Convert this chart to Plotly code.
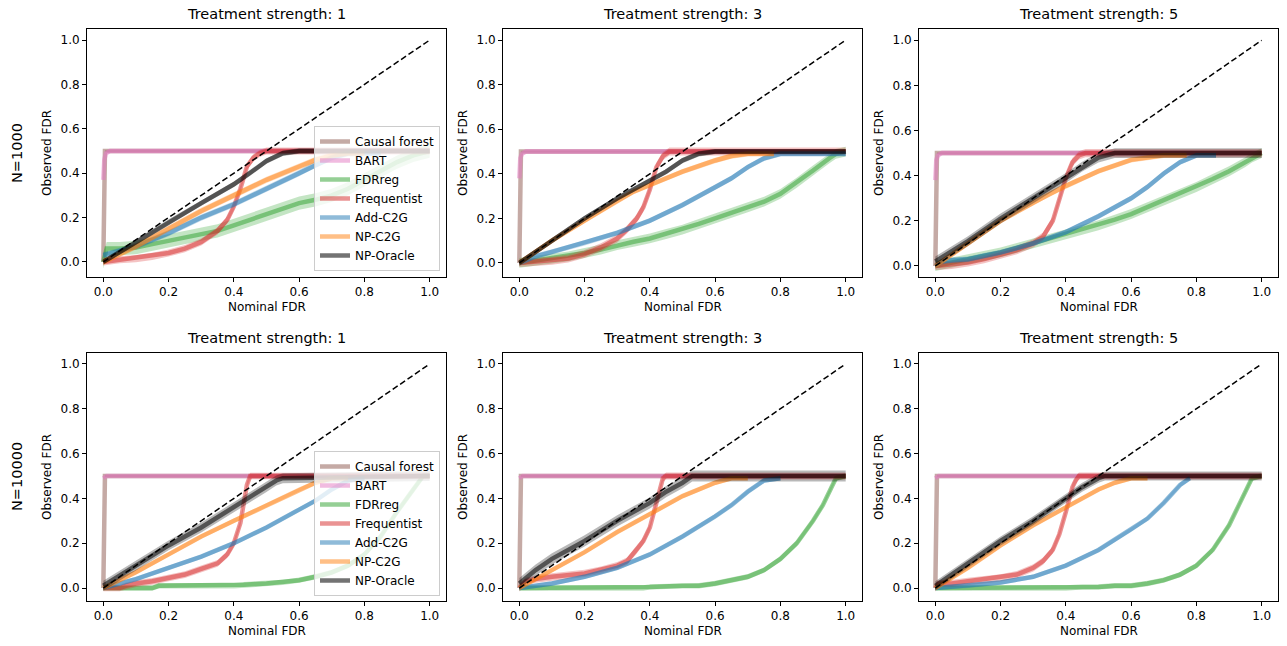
import plotly.graph_objects as go

METHODS = ["Causal forest", "BART", "FDRreg", "Frequentist", "Add-C2G", "NP-C2G", "NP-Oracle"]
COLORS = ["140,86,75", "227,119,194", "44,160,44", "214,39,40", "31,119,180", "255,127,14", "0,0,0"]
ROW_LABELS = ["N=1000", "N=10000"]
STRENGTHS = [1, 3, 5]

# each entry: method -> (nominal FDR, observed FDR, half width of band)
n1000_s1 = {
    "Causal forest": ([0.0, 0.005, 1.0], [0.0, 0.5, 0.5], 0.004),
    "BART": ([0.0, 0.003, 0.008, 0.02, 1.0], [0.37, 0.46, 0.49, 0.5, 0.5], 0.01),
    "FDRreg": ([0.0, 0.01, 0.05, 0.1, 0.15, 0.2, 0.25, 0.3, 0.35, 0.4, 0.45, 0.5, 0.55, 0.6, 0.65, 0.7, 0.75, 0.8, 0.85, 0.9, 0.95, 1.0],
               [0.0, 0.06, 0.06, 0.065, 0.08, 0.095, 0.11, 0.125, 0.14, 0.165, 0.19, 0.215, 0.24, 0.265, 0.28, 0.3, 0.33, 0.37, 0.41, 0.45, 0.48, 0.5], 0.03),
    "Frequentist": ([0.0, 0.05, 0.1, 0.15, 0.2, 0.25, 0.3, 0.35, 0.38, 0.4, 0.42, 0.44, 0.46, 0.48, 0.5, 1.0],
                    [0.0, 0.01, 0.015, 0.025, 0.04, 0.06, 0.09, 0.14, 0.19, 0.25, 0.33, 0.43, 0.47, 0.49, 0.5, 0.5], 0.016),
    "Add-C2G": ([0.0, 0.05, 0.1, 0.2, 0.3, 0.4, 0.5, 0.6, 0.65, 0.7, 0.75, 0.85],
                [0.03, 0.05, 0.07, 0.13, 0.2, 0.26, 0.33, 0.4, 0.44, 0.47, 0.49, 0.49], 0.014),
    "NP-C2G": ([0.0, 0.1, 0.2, 0.3, 0.4, 0.5, 0.6, 0.65, 0.7, 0.75, 0.8],
               [0.0, 0.07, 0.15, 0.23, 0.3, 0.37, 0.43, 0.46, 0.48, 0.49, 0.49], 0.014),
    "NP-Oracle": ([0.0, 0.1, 0.2, 0.3, 0.4, 0.45, 0.5, 0.55, 0.6, 1.0],
                  [0.0, 0.09, 0.18, 0.265, 0.35, 0.4, 0.455, 0.49, 0.5, 0.5], 0.012),
}

n1000_s3 = {
    "Causal forest": ([0.0, 0.005, 1.0], [0.0, 0.5, 0.5], 0.004),
    "BART": ([0.0, 0.003, 0.008, 0.02, 1.0], [0.38, 0.47, 0.49, 0.5, 0.5], 0.01),
    "FDRreg": ([0.0, 0.05, 0.1, 0.15, 0.2, 0.25, 0.3, 0.35, 0.4, 0.45, 0.5, 0.55, 0.6, 0.65, 0.7, 0.75, 0.8, 0.85, 0.9, 0.95, 0.97, 1.0],
               [0.0, 0.01, 0.02, 0.03, 0.045, 0.06, 0.08, 0.095, 0.11, 0.13, 0.15, 0.175, 0.2, 0.225, 0.25, 0.275, 0.31, 0.36, 0.415, 0.47, 0.49, 0.5], 0.022),
    "Frequentist": ([0.0, 0.05, 0.1, 0.15, 0.2, 0.25, 0.3, 0.33, 0.36, 0.38, 0.4, 0.42, 0.44, 0.46, 0.5, 1.0],
                    [0.0, 0.005, 0.01, 0.02, 0.04, 0.07, 0.11, 0.15, 0.2, 0.25, 0.33, 0.43, 0.48, 0.5, 0.5, 0.5], 0.018),
    "Add-C2G": ([0.0, 0.05, 0.1, 0.2, 0.3, 0.4, 0.5, 0.6, 0.65, 0.7, 0.75, 0.8, 1.0],
                [0.0, 0.03, 0.05, 0.09, 0.135, 0.19, 0.26, 0.34, 0.38, 0.43, 0.47, 0.49, 0.49], 0.012),
    "NP-C2G": ([0.0, 0.1, 0.2, 0.3, 0.35, 0.4, 0.5, 0.6, 0.65, 0.7, 0.78],
               [0.0, 0.1, 0.19, 0.28, 0.32, 0.35, 0.41, 0.46, 0.48, 0.49, 0.49], 0.012),
    "NP-Oracle": ([0.0, 0.1, 0.2, 0.3, 0.4, 0.45, 0.5, 0.55, 0.6, 1.0],
                  [0.0, 0.1, 0.2, 0.29, 0.37, 0.41, 0.46, 0.49, 0.5, 0.5], 0.012),
}

n1000_s5 = {
    "Causal forest": ([0.0, 0.005, 1.0], [0.0, 0.5, 0.5], 0.004),
    "BART": ([0.0, 0.003, 0.008, 0.02, 1.0], [0.38, 0.47, 0.49, 0.5, 0.5], 0.01),
    "FDRreg": ([0.0, 0.05, 0.1, 0.15, 0.2, 0.25, 0.3, 0.35, 0.4, 0.45, 0.5, 0.55, 0.6, 0.65, 0.7, 0.75, 0.8, 0.85, 0.9, 0.95, 0.97, 1.0],
               [0.0, 0.015, 0.03, 0.045, 0.06, 0.08, 0.1, 0.12, 0.14, 0.16, 0.18, 0.205, 0.23, 0.26, 0.29, 0.32, 0.35, 0.385, 0.42, 0.46, 0.48, 0.5], 0.022),
    "Frequentist": ([0.0, 0.05, 0.1, 0.15, 0.2, 0.25, 0.3, 0.33, 0.36, 0.38, 0.4, 0.42, 0.44, 0.46, 0.5, 1.0],
                    [0.0, 0.005, 0.015, 0.03, 0.05, 0.07, 0.1, 0.13, 0.2, 0.3, 0.39, 0.46, 0.49, 0.5, 0.5, 0.5], 0.018),
    "Add-C2G": ([0.0, 0.02, 0.05, 0.1, 0.15, 0.2, 0.3, 0.4, 0.5, 0.6, 0.65, 0.7, 0.75, 0.8, 0.86],
                [0.0, 0.02, 0.025, 0.03, 0.045, 0.06, 0.1, 0.15, 0.22, 0.3, 0.35, 0.41, 0.46, 0.49, 0.49], 0.012),
    "NP-C2G": ([0.0, 0.1, 0.2, 0.3, 0.35, 0.4, 0.5, 0.6, 0.65, 0.7, 0.77],
               [0.0, 0.1, 0.2, 0.28, 0.32, 0.355, 0.42, 0.47, 0.48, 0.49, 0.49], 0.012),
    "NP-Oracle": ([0.0, 0.1, 0.2, 0.3, 0.4, 0.45, 0.5, 0.55, 1.0],
                  [0.02, 0.11, 0.21, 0.3, 0.39, 0.44, 0.48, 0.5, 0.5], 0.022),
}

n10000_s1 = {
    "Causal forest": ([0.0, 0.005, 1.0], [0.0, 0.5, 0.5], 0.004),
    "BART": ([0.0, 0.01, 1.0], [0.49, 0.5, 0.5], 0.006),
    "FDRreg": ([0.0, 0.05, 0.1, 0.15, 0.17, 0.2, 0.3, 0.4, 0.43, 0.5, 0.55, 0.6, 0.65, 0.7, 0.75, 0.8, 0.85, 0.9, 0.95, 0.98, 1.0],
               [0.0, 0.0, 0.0, 0.0, 0.01, 0.01, 0.01, 0.01, 0.015, 0.02, 0.025, 0.035, 0.05, 0.07, 0.1, 0.15, 0.23, 0.34, 0.44, 0.5, 0.5], 0.012),
    "Frequentist": ([0.0, 0.05, 0.07, 0.1, 0.15, 0.2, 0.25, 0.3, 0.35, 0.38, 0.4, 0.42, 0.43, 0.44, 0.45, 1.0],
                    [0.0, 0.0, 0.01, 0.02, 0.03, 0.045, 0.06, 0.085, 0.11, 0.15, 0.2, 0.29, 0.37, 0.46, 0.5, 0.5], 0.015),
    "Add-C2G": ([0.0, 0.05, 0.1, 0.2, 0.3, 0.4, 0.5, 0.6, 0.65, 0.7, 0.75, 0.8],
                [0.0, 0.02, 0.04, 0.09, 0.14, 0.2, 0.27, 0.35, 0.39, 0.44, 0.48, 0.49], 0.01),
    "NP-C2G": ([0.0, 0.1, 0.2, 0.3, 0.4, 0.5, 0.6, 0.65, 0.7, 0.75],
               [0.0, 0.07, 0.15, 0.23, 0.3, 0.37, 0.44, 0.47, 0.49, 0.49], 0.01),
    "NP-Oracle": ([0.0, 0.1, 0.2, 0.3, 0.4, 0.5, 0.53, 0.55, 1.0],
                  [0.01, 0.1, 0.19, 0.27, 0.36, 0.45, 0.48, 0.49, 0.5], 0.022),
}

n10000_s3 = {
    "Causal forest": ([0.0, 0.005, 1.0], [0.0, 0.5, 0.5], 0.004),
    "BART": ([0.0, 0.01, 1.0], [0.49, 0.5, 0.5], 0.006),
    "FDRreg": ([0.0, 0.1, 0.2, 0.3, 0.38, 0.4, 0.5, 0.55, 0.6, 0.65, 0.7, 0.75, 0.8, 0.85, 0.9, 0.93, 0.95, 0.97, 1.0],
               [0.0, 0.0, 0.0, 0.0, 0.0, 0.005, 0.01, 0.01, 0.02, 0.035, 0.05, 0.08, 0.13, 0.2, 0.3, 0.37, 0.43, 0.49, 0.5], 0.012),
    "Frequentist": ([0.0, 0.02, 0.05, 0.1, 0.2, 0.25, 0.3, 0.33, 0.36, 0.38, 0.4, 0.42, 0.43, 0.44, 0.45, 1.0],
                    [0.0, 0.03, 0.04, 0.05, 0.065, 0.08, 0.1, 0.12, 0.17, 0.21, 0.27, 0.38, 0.44, 0.49, 0.5, 0.5], 0.016),
    "Add-C2G": ([0.0, 0.05, 0.1, 0.2, 0.3, 0.4, 0.5, 0.6, 0.65, 0.7, 0.75, 0.8],
                [0.0, 0.01, 0.02, 0.05, 0.09, 0.15, 0.23, 0.32, 0.37, 0.43, 0.48, 0.49], 0.01),
    "NP-C2G": ([0.0, 0.1, 0.2, 0.3, 0.4, 0.5, 0.6, 0.65, 0.7],
               [0.0, 0.08, 0.16, 0.25, 0.33, 0.41, 0.47, 0.49, 0.49], 0.01),
    "NP-Oracle": ([0.0, 0.05, 0.1, 0.2, 0.3, 0.4, 0.45, 0.5, 0.53, 1.0],
                  [0.02, 0.08, 0.13, 0.21, 0.3, 0.38, 0.43, 0.47, 0.5, 0.5], 0.025),
}

n10000_s5 = {
    "Causal forest": ([0.0, 0.005, 1.0], [0.0, 0.5, 0.5], 0.004),
    "BART": ([0.0, 0.01, 1.0], [0.49, 0.5, 0.5], 0.006),
    "FDRreg": ([0.0, 0.1, 0.2, 0.3, 0.4, 0.45, 0.5, 0.55, 0.6, 0.65, 0.7, 0.75, 0.8, 0.85, 0.9, 0.93, 0.95, 0.97, 1.0],
               [0.0, 0.0, 0.0, 0.0, 0.0, 0.005, 0.005, 0.01, 0.01, 0.02, 0.035, 0.06, 0.1, 0.17, 0.28, 0.37, 0.43, 0.49, 0.5], 0.012),
    "Frequentist": ([0.0, 0.01, 0.05, 0.1, 0.2, 0.25, 0.3, 0.33, 0.36, 0.38, 0.4, 0.42, 0.43, 0.44, 0.45, 1.0],
                    [0.0, 0.02, 0.02, 0.03, 0.045, 0.06, 0.09, 0.12, 0.17, 0.24, 0.34, 0.45, 0.48, 0.5, 0.5, 0.5], 0.016),
    "Add-C2G": ([0.0, 0.05, 0.1, 0.2, 0.3, 0.4, 0.5, 0.6, 0.65, 0.7, 0.75, 0.78],
                [0.0, 0.005, 0.01, 0.025, 0.05, 0.1, 0.17, 0.26, 0.31, 0.38, 0.46, 0.49], 0.01),
    "NP-C2G": ([0.0, 0.1, 0.2, 0.3, 0.4, 0.5, 0.55, 0.6, 0.65],
               [0.0, 0.09, 0.19, 0.28, 0.36, 0.44, 0.47, 0.49, 0.49], 0.01),
    "NP-Oracle": ([0.0, 0.1, 0.2, 0.3, 0.4, 0.45, 0.5, 0.52, 1.0],
                  [0.01, 0.11, 0.21, 0.3, 0.4, 0.45, 0.49, 0.5, 0.5], 0.02),
}

PANELS = [n1000_s1, n1000_s3, n1000_s5, n10000_s1, n10000_s3, n10000_s5]
DIAGONAL = [0.0, 1.0]
TICKS = [0.0, 0.2, 0.4, 0.6, 0.8, 1.0]

W, H = 1287, 646
FONT = "DejaVu Sans"
# pixel boxes of the axes (left, right) and (top, bottom)
COL_PX = [(87, 446), (503, 862), (919, 1278)]
ROW_PX = [(29, 277), (353, 601)]
YRANGES = [[-0.068, 1.05], [-0.063, 1.05], [-0.049, 1.05], [-0.058, 1.049], [-0.058, 1.049], [-0.058, 1.049]]

fig = go.Figure()
layout = dict(width=W, height=H, margin=dict(l=0, r=0, t=0, b=0),
              paper_bgcolor="white", plot_bgcolor="white",
              font=dict(family=FONT, size=12, color="black"), annotations=[])

for p, data in enumerate(PANELS):
    r, c = divmod(p, 3)
    ax = "" if p == 0 else str(p + 1)
    xref, yref = "x" + ax, "y" + ax
    for m, name in enumerate(METHODS):
        xs, ys, hw = data[name]
        rgb = COLORS[m]
        alpha_line = 0.55 if name == "NP-Oracle" else 0.5
        up = [v + hw for v in ys]
        lo = [v - hw for v in ys]
        fig.add_trace(go.Scatter(x=list(xs) + list(xs)[::-1], y=up + lo[::-1], fill="toself",
                                 fillcolor=f"rgba({rgb},0.28)", line=dict(width=0), mode="lines",
                                 hoverinfo="skip", showlegend=False, xaxis=xref, yaxis=yref))
        show = p in (0, 3)
        fig.add_trace(go.Scatter(x=xs, y=ys, mode="lines", name=name,
                                 line=dict(color=f"rgba({rgb},{alpha_line})", width=4.5),
                                 showlegend=show, legend="legend" if p == 0 else "legend2",
                                 xaxis=xref, yaxis=yref))
    fig.add_trace(go.Scatter(x=DIAGONAL, y=DIAGONAL, mode="lines", showlegend=False,
                             line=dict(color="black", width=1.5, dash="6px,3px"),
                             xaxis=xref, yaxis=yref))

    x0, x1 = COL_PX[c]
    y0, y1 = ROW_PX[r]
    axis_common = dict(showline=True, mirror=True, linecolor="black", linewidth=1,
                       ticks="outside", ticklen=4, tickwidth=1, tickcolor="black",
                       showgrid=False, zeroline=False, tickvals=TICKS, tickformat=".1f",
                       tickfont=dict(size=12, family=FONT), automargin=False)
    layout["xaxis" + ax] = dict(domain=[x0 / W, x1 / W], range=[-0.05, 1.05], anchor=yref, **axis_common)
    layout["yaxis" + ax] = dict(domain=[1 - y1 / H, 1 - y0 / H], range=YRANGES[p], anchor=xref, **axis_common)

    cx = (x0 + x1) / 2 / W
    cy = 1 - (y0 + y1) / 2 / H
    layout["annotations"].append(dict(text=f"Treatment strength: {STRENGTHS[c]}", x=cx, y=1 - (y0 - 15) / H,
                                      xref="paper", yref="paper", showarrow=False, xanchor="center",
                                      yanchor="middle", font=dict(size=14.5, family=FONT)))
    layout["annotations"].append(dict(text="Nominal FDR", x=cx, y=1 - (y1 + 30) / H, xref="paper", yref="paper",
                                      showarrow=False, xanchor="center", yanchor="middle",
                                      font=dict(size=12, family=FONT)))
    layout["annotations"].append(dict(text="Observed FDR", x=(x0 - 40) / W, y=cy, xref="paper", yref="paper",
                                      showarrow=False, xanchor="center", yanchor="middle", textangle=-90,
                                      font=dict(size=12, family=FONT)))
    if c == 0:
        layout["annotations"].append(dict(text=ROW_LABELS[r], x=17 / W, y=cy, xref="paper", yref="paper",
                                          showarrow=False, xanchor="center", yanchor="middle", textangle=-90,
                                          font=dict(size=14.5, family=FONT)))

legend_common = dict(xanchor="right", yanchor="bottom", bgcolor="rgba(255,255,255,0.8)",
                     bordercolor="#cccccc", borderwidth=1, font=dict(size=12, family=FONT),
                     itemwidth=30, tracegroupgap=0)
layout["legend"] = dict(x=440 / W, y=1 - 271 / H, **legend_common)
layout["legend2"] = dict(x=440 / W, y=1 - 596 / H, **legend_common)

fig.update_layout(**layout)
fig.write_html("out.html")
